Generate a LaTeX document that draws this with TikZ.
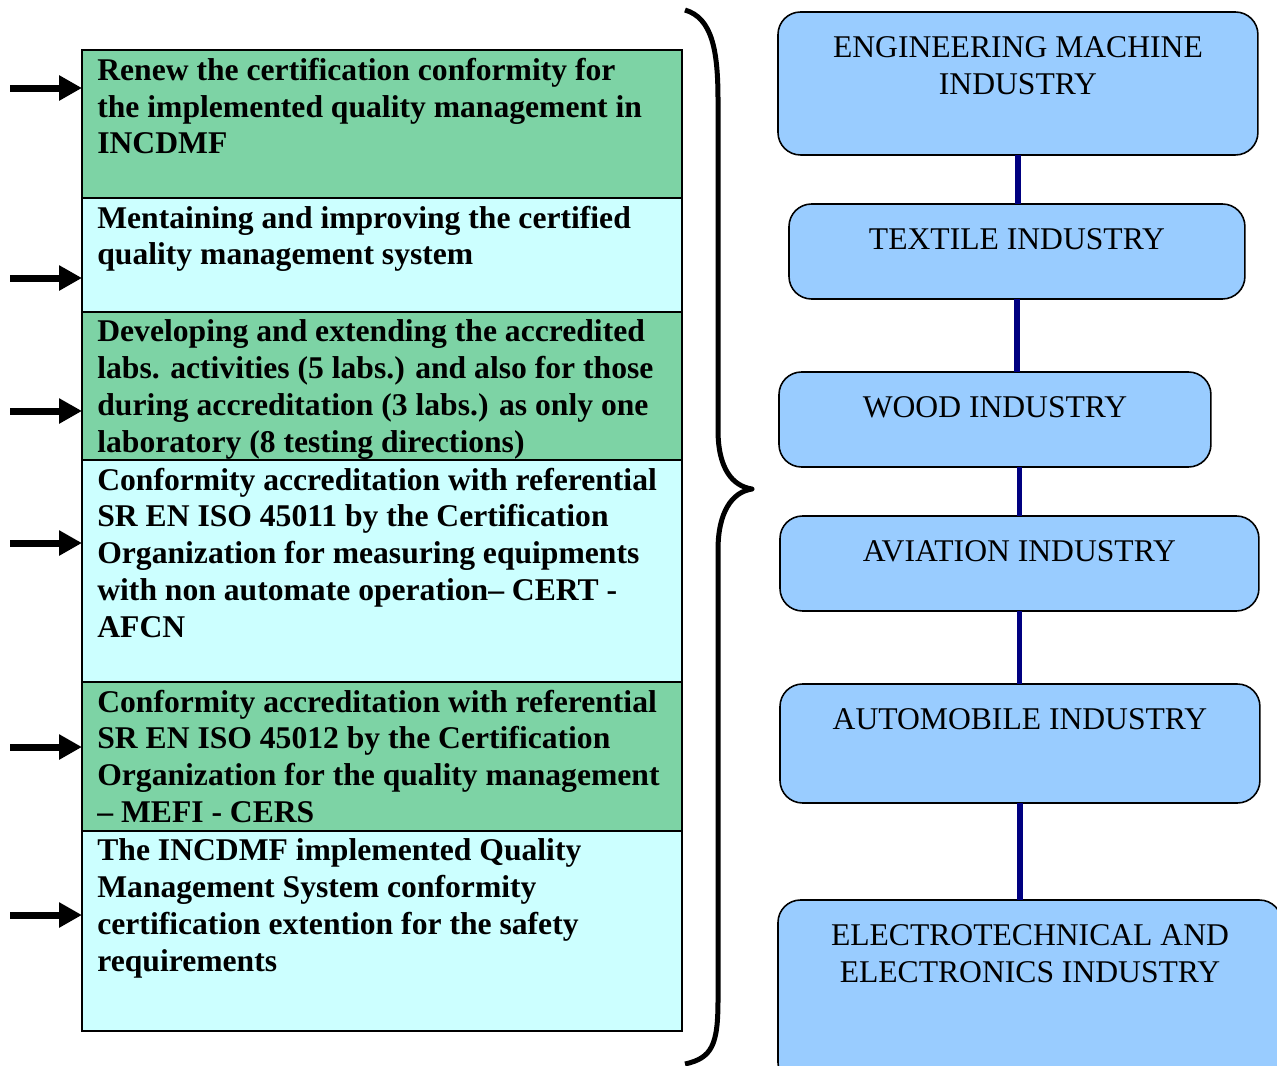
\documentclass[tikz,border=0pt]{standalone}
\usepackage{fontspec}
\setmainfont{Liberation Serif}
\usepackage{xcolor}
\usetikzlibrary{arrows.meta,positioning,calc}

\definecolor{goalgreen}{RGB}{125,211,165}
\definecolor{goalcyan}{RGB}{204,255,255}
\definecolor{sectorblue}{RGB}{153,204,255}
\definecolor{linknavy}{RGB}{0,0,128}

\begin{document}
\begin{tikzpicture}[
    x=0.02cm, y=-0.02cm,
    goal/.style={rectangle, draw, line width=1.2pt, minimum width=12cm, inner sep=0pt, outer sep=0pt},
    goaltext/.style={anchor=north west, inner sep=0pt, xshift=0.3cm, yshift=-0.15cm, align=left, font=\fontsize{18}{21}\selectfont\bfseries},
    sector/.style={rectangle, rounded corners=0.45cm, draw, line width=0.9pt, fill=sectorblue, inner sep=0pt, outer sep=0pt, anchor=north west},
    sectortext/.style={anchor=north, inner sep=0pt, yshift=-0.48cm, align=center, font=\fontsize{18}{21}\selectfont},
    pointer/.style={-{Triangle[length=0.46cm, width=0.48cm]}, line width=0.14cm},
    link/.style={draw=linknavy, line width=0.11cm}
  ]
  \useasboundingbox (0,0) rectangle (1277,1065);
  \clip (0,0) rectangle (1277,1065);

  % left column: goals
  \node[goal, fill=goalgreen, minimum height=2.96cm, anchor=north west] (b1) at (82,50) {};
  \node[goal, fill=goalcyan, minimum height=2.28cm, below=0pt of b1] (b2) {};
  \node[goal, fill=goalgreen, minimum height=2.96cm, below=0pt of b2] (b3) {};
  \node[goal, fill=goalcyan, minimum height=4.44cm, below=0pt of b3] (b4) {};
  \node[goal, fill=goalgreen, minimum height=2.98cm, below=0pt of b4] (b5) {};
  \node[goal, fill=goalcyan, minimum height=4.0cm, below=0pt of b5] (b6) {};

  \node[goaltext] (t1) at (b1.north west) {Renew the certification conformity for\\the implemented quality management in\\INCDMF};
  \node[goaltext] (t2) at (b2.north west) {Mentaining and improving the certified\\quality management system};
  \node[goaltext] (t3) at (b3.north west) {Developing and extending the accredited\\labs. activities (5 labs.) and also for those\\during accreditation (3 labs.) as only one\\laboratory (8 testing directions)};
  \node[goaltext] (t4) at (b4.north west) {Conformity accreditation with referential\\SR EN ISO 45011 by the Certification\\Organization for measuring equipments\\with non automate operation– CERT -\\AFCN};
  \node[goaltext] (t5) at (b5.north west) {Conformity accreditation with referential\\SR EN ISO 45012 by the Certification\\Organization for the quality management\\– MEFI - CERS};
  \node[goaltext] (t6) at (b6.north west) {The INCDMF implemented Quality\\Management System conformity\\certification extention for the safety\\requirements};

  % arrows into the goals
  \foreach \y [count=\i] in {88,278,411,543,747,915}
    \coordinate (p\i) at (10,\y);
  \foreach \i in {1,...,6}
    \draw[pointer] (p\i) -- (p\i -| b\i.west);

  % brace
  \draw[line width=0.1cm, line join=round] (685,10) .. controls (712,18) and (718,50) .. (718,100)
    -- (718,430) .. controls (718,468) and (732,486) .. (752,489)
    .. controls (732,492) and (718,512) .. (718,550)
    -- (718,1000) .. controls (718,1045) and (712,1058) .. (685,1064);

  % right column: industries
  \node[sector, minimum width=9.6cm, minimum height=2.86cm] (s1) at (778,12) {};
  \node[sector, minimum width=9.12cm, minimum height=1.9cm] (s2) at (789,204) {};
  \node[sector, minimum width=8.64cm, minimum height=1.9cm] (s3) at (779,372) {};
  \node[sector, minimum width=9.58cm, minimum height=1.9cm] (s4) at (780,516) {};
  \node[sector, minimum width=9.6cm, minimum height=2.38cm] (s5) at (780,684) {};
  \node[sector, minimum width=10.08cm, minimum height=3.7cm] (s6) at (778,900) {};

  \node[sectortext] (st1) at (s1.north) {ENGINEERING MACHINE\\INDUSTRY};
  \node[sectortext] (st2) at (s2.north) {TEXTILE INDUSTRY};
  \node[sectortext] (st3) at (s3.north) {WOOD INDUSTRY};
  \node[sectortext] (st4) at (s4.north) {AVIATION INDUSTRY};
  \node[sectortext] (st5) at (s5.north) {AUTOMOBILE INDUSTRY};
  \node[sectortext] (st6) at (s6.north) {ELECTROTECHNICAL AND\\ELECTRONICS INDUSTRY};

  \draw[link] (s1.south) -- (s1.south |- s2.north);
  \draw[link] (s2.south) -- (s2.south |- s3.north);
  \draw[link] (s4.north |- s3.south) -- (s4.north);
  \draw[link] (s4.south) -- (s4.south |- s5.north);
  \draw[link] (s5.south) -- (s5.south |- s6.north);

\end{tikzpicture}
\end{document}
